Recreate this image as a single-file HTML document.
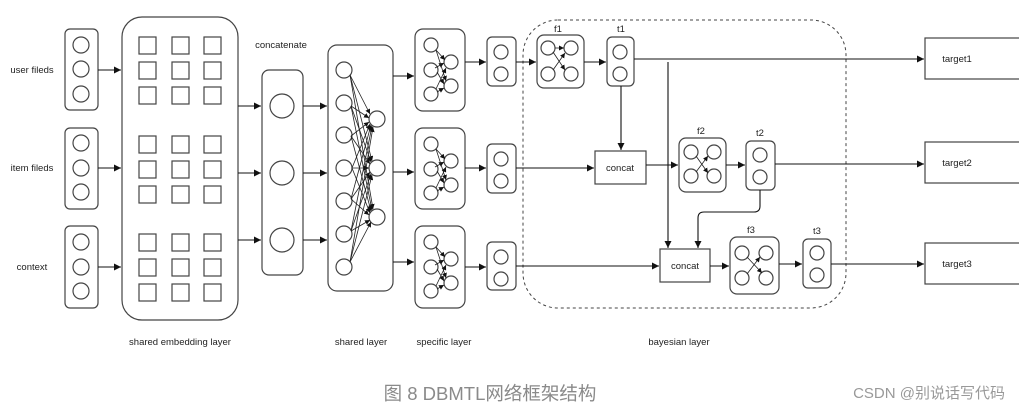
<!DOCTYPE html>
<html><head><meta charset="utf-8"><style>
html,body{margin:0;padding:0;background:#fff;}
svg{display:block;}
text{font-family:"Liberation Sans",sans-serif;fill:#222;}
</style></head><body>
<svg width="1019" height="411" viewBox="0 0 1019 411" xmlns="http://www.w3.org/2000/svg">
<defs>
<marker id="a" viewBox="0 0 10 10" refX="10" refY="5" markerWidth="7" markerHeight="7" markerUnits="userSpaceOnUse" orient="auto"><path d="M0,0L10,5L0,10z" fill="#111"/></marker>
<marker id="s" viewBox="0 0 10 10" refX="10" refY="5" markerWidth="5" markerHeight="5" markerUnits="userSpaceOnUse" orient="auto"><path d="M0,0L10,5L0,10z" fill="#111"/></marker>
</defs>
<g fill="none" stroke="#444" stroke-width="1.2">
<!-- input boxes -->
<rect x="65" y="29" width="33" height="81" rx="5"/>
<rect x="65" y="128" width="33" height="81" rx="5"/>
<rect x="65" y="226" width="33" height="82" rx="5"/>
<circle cx="81" cy="45" r="8"/><circle cx="81" cy="69" r="8"/><circle cx="81" cy="94" r="8"/>
<circle cx="81" cy="143" r="8"/><circle cx="81" cy="168" r="8"/><circle cx="81" cy="192" r="8"/>
<circle cx="81" cy="242" r="8"/><circle cx="81" cy="267" r="8"/><circle cx="81" cy="291" r="8"/>
<!-- embedding -->
<rect x="122" y="17" width="116" height="303" rx="20"/>
<g>
<rect x="139" y="37" width="17" height="17"/><rect x="172" y="37" width="17" height="17"/><rect x="204" y="37" width="17" height="17"/>
<rect x="139" y="62" width="17" height="17"/><rect x="172" y="62" width="17" height="17"/><rect x="204" y="62" width="17" height="17"/>
<rect x="139" y="87" width="17" height="17"/><rect x="172" y="87" width="17" height="17"/><rect x="204" y="87" width="17" height="17"/>
<rect x="139" y="136" width="17" height="17"/><rect x="172" y="136" width="17" height="17"/><rect x="204" y="136" width="17" height="17"/>
<rect x="139" y="161" width="17" height="17"/><rect x="172" y="161" width="17" height="17"/><rect x="204" y="161" width="17" height="17"/>
<rect x="139" y="186" width="17" height="17"/><rect x="172" y="186" width="17" height="17"/><rect x="204" y="186" width="17" height="17"/>
<rect x="139" y="234" width="17" height="17"/><rect x="172" y="234" width="17" height="17"/><rect x="204" y="234" width="17" height="17"/>
<rect x="139" y="259" width="17" height="17"/><rect x="172" y="259" width="17" height="17"/><rect x="204" y="259" width="17" height="17"/>
<rect x="139" y="284" width="17" height="17"/><rect x="172" y="284" width="17" height="17"/><rect x="204" y="284" width="17" height="17"/>
</g>
<!-- concat -->
<rect x="262" y="70" width="41" height="205" rx="7"/>
<circle cx="282" cy="106" r="12"/><circle cx="282" cy="173" r="12"/><circle cx="282" cy="240" r="12"/>
<!-- shared -->
<rect x="328" y="45" width="65" height="246" rx="9"/>
<circle cx="344" cy="70" r="8"/><circle cx="344" cy="103" r="8"/><circle cx="344" cy="135" r="8"/><circle cx="344" cy="168" r="8"/><circle cx="344" cy="201" r="8"/><circle cx="344" cy="234" r="8"/><circle cx="344" cy="267" r="8"/>
<circle cx="377" cy="119" r="8"/><circle cx="377" cy="168" r="8"/><circle cx="377" cy="217" r="8"/>
<!-- specific -->
<rect x="415" y="29" width="50" height="82" rx="8"/>
<rect x="415" y="128" width="50" height="81" rx="8"/>
<rect x="415" y="226" width="50" height="82" rx="8"/>
<circle cx="431" cy="45" r="7"/><circle cx="431" cy="70" r="7"/><circle cx="431" cy="94" r="7"/><circle cx="451" cy="62" r="7"/><circle cx="451" cy="86" r="7"/>
<circle cx="431" cy="144" r="7"/><circle cx="431" cy="169" r="7"/><circle cx="431" cy="193" r="7"/><circle cx="451" cy="161" r="7"/><circle cx="451" cy="185" r="7"/>
<circle cx="431" cy="242" r="7"/><circle cx="431" cy="267" r="7"/><circle cx="431" cy="291" r="7"/><circle cx="451" cy="259" r="7"/><circle cx="451" cy="283" r="7"/>
<!-- two-circle boxes -->
<rect x="487" y="37" width="29" height="49" rx="5"/><circle cx="501" cy="52" r="7"/><circle cx="501" cy="74" r="7"/>
<rect x="487" y="144" width="29" height="49" rx="5"/><circle cx="501" cy="159" r="7"/><circle cx="501" cy="181" r="7"/>
<rect x="487" y="242" width="29" height="48" rx="5"/><circle cx="501" cy="257" r="7"/><circle cx="501" cy="279" r="7"/>
<!-- dashed -->
<rect x="523" y="20" width="323" height="288" rx="35" stroke-dasharray="3,3" stroke-width="1"/>
<!-- f boxes -->
<rect x="537" y="35" width="47" height="53" rx="7"/>
<circle cx="548" cy="48" r="7"/><circle cx="571" cy="48" r="7"/><circle cx="548" cy="74" r="7"/><circle cx="571" cy="74" r="7"/>
<rect x="679" y="138" width="47" height="54" rx="7"/>
<circle cx="691" cy="152" r="7"/><circle cx="714" cy="152" r="7"/><circle cx="691" cy="176" r="7"/><circle cx="714" cy="176" r="7"/>
<rect x="730" y="237" width="49" height="57" rx="7"/>
<circle cx="742" cy="253" r="7"/><circle cx="766" cy="253" r="7"/><circle cx="742" cy="278" r="7"/><circle cx="766" cy="278" r="7"/>
<!-- t boxes -->
<rect x="607" y="37" width="27" height="49" rx="5"/><circle cx="620" cy="52" r="7"/><circle cx="620" cy="74" r="7"/>
<rect x="746" y="141" width="29" height="49" rx="5"/><circle cx="760" cy="155" r="7"/><circle cx="760" cy="177" r="7"/>
<rect x="803" y="239" width="28" height="49" rx="5"/><circle cx="817" cy="253" r="7"/><circle cx="817" cy="275" r="7"/>
<!-- concat boxes -->
<rect x="595" y="151" width="51" height="33"/>
<rect x="660" y="249" width="50" height="33"/>
<!-- targets -->
<rect x="925" y="38" width="100" height="41"/>
<rect x="925" y="142" width="100" height="41"/>
<rect x="925" y="243" width="100" height="41"/>
</g>
<g stroke="#111" stroke-width="1.1" fill="none" marker-end="url(#a)">
<line x1="98" y1="70" x2="121" y2="70"/><line x1="98" y1="168" x2="121" y2="168"/><line x1="98" y1="267" x2="121" y2="267"/>
<line x1="238" y1="106" x2="261" y2="106"/><line x1="238" y1="173" x2="261" y2="173"/><line x1="238" y1="240" x2="261" y2="240"/>
<line x1="303" y1="106" x2="327" y2="106"/><line x1="303" y1="173" x2="327" y2="173"/><line x1="303" y1="240" x2="327" y2="240"/>
<line x1="393" y1="76" x2="414" y2="76"/><line x1="393" y1="172" x2="414" y2="172"/><line x1="393" y1="262" x2="414" y2="262"/>
<line x1="465" y1="62" x2="486" y2="62"/><line x1="465" y1="168" x2="486" y2="168"/><line x1="465" y1="267" x2="486" y2="267"/>
<line x1="516" y1="62" x2="536" y2="62"/>
<line x1="584" y1="62" x2="606" y2="62"/>
<line x1="634" y1="59" x2="924" y2="59"/>
<line x1="668" y1="62" x2="668" y2="248"/>
<line x1="621" y1="86" x2="621" y2="150"/>
<line x1="516" y1="168" x2="594" y2="168"/>
<line x1="646" y1="165" x2="678" y2="165"/>
<line x1="726" y1="165" x2="745" y2="165"/>
<line x1="775" y1="164" x2="924" y2="164"/>
<path d="M760,190 V206 Q760,212 754,212 H704 Q698,212 698,218 V248"/>
<line x1="516" y1="266" x2="659" y2="266"/>
<line x1="710" y1="266" x2="729" y2="266"/>
<line x1="779" y1="264" x2="802" y2="264"/>
<line x1="831" y1="264" x2="924" y2="264"/>
</g>
<g stroke="#222" stroke-width="0.8" marker-end="url(#s)">
<!-- shared layer dense -->
<line x1="350" y1="75" x2="370" y2="114"/><line x1="350" y1="75" x2="372" y2="161"/><line x1="350" y1="75" x2="373" y2="209"/>
<line x1="351" y1="106" x2="369" y2="118"/><line x1="351" y1="106" x2="371" y2="162"/><line x1="351" y1="106" x2="372" y2="210"/>
<line x1="351" y1="136" x2="369" y2="122"/><line x1="351" y1="136" x2="370" y2="164"/><line x1="351" y1="136" x2="371" y2="211"/>
<line x1="352" y1="168" x2="370" y2="124"/><line x1="352" y1="168" x2="369" y2="168"/><line x1="352" y1="168" x2="370" y2="213"/>
<line x1="351" y1="199" x2="371" y2="125"/><line x1="351" y1="199" x2="370" y2="172"/><line x1="351" y1="199" x2="369" y2="215"/>
<line x1="351" y1="231" x2="372" y2="126"/><line x1="351" y1="231" x2="371" y2="174"/><line x1="351" y1="231" x2="370" y2="220"/>
<line x1="350" y1="262" x2="373" y2="127"/><line x1="350" y1="262" x2="372" y2="175"/><line x1="350" y1="262" x2="371" y2="222"/>
<!-- specific -->
<line x1="436" y1="50" x2="445" y2="60"/><line x1="435" y1="68" x2="444" y2="63"/><line x1="436" y1="89" x2="446" y2="68"/>
<line x1="436" y1="50" x2="446" y2="81"/><line x1="437" y1="72" x2="444" y2="84"/><line x1="437" y1="92" x2="444" y2="88"/>
<line x1="436" y1="149" x2="445" y2="159"/><line x1="435" y1="167" x2="444" y2="162"/><line x1="436" y1="188" x2="446" y2="167"/>
<line x1="436" y1="149" x2="446" y2="180"/><line x1="437" y1="171" x2="444" y2="183"/><line x1="437" y1="191" x2="444" y2="187"/>
<line x1="436" y1="247" x2="445" y2="257"/><line x1="435" y1="265" x2="444" y2="260"/><line x1="436" y1="286" x2="446" y2="265"/>
<line x1="436" y1="247" x2="446" y2="278"/><line x1="437" y1="269" x2="444" y2="281"/><line x1="437" y1="289" x2="444" y2="285"/>
<!-- f nets -->
<line x1="553" y1="52" x2="565" y2="70"/><line x1="553" y1="70" x2="565" y2="53"/><line x1="555" y1="48" x2="564" y2="48"/>
<line x1="696" y1="156" x2="708" y2="173"/><line x1="696" y1="172" x2="708" y2="156"/>
<line x1="747" y1="274" x2="760" y2="257"/><line x1="747" y1="257" x2="762" y2="273"/>
</g>
<g font-size="9.5" text-anchor="middle">
<text x="32" y="73">user fileds</text>
<text x="32" y="171">item fileds</text>
<text x="32" y="270">context</text>
<text x="281" y="48">concatenate</text>
<text x="180" y="345">shared embedding layer</text>
<text x="361" y="345">shared layer</text>
<text x="444" y="345">specific layer</text>
<text x="679" y="345">bayesian layer</text>
<text x="558" y="32">f1</text><text x="621" y="32">t1</text>
<text x="701" y="134">f2</text><text x="760" y="136">t2</text>
<text x="751" y="233">f3</text><text x="817" y="234">t3</text>
<text x="620" y="171">concat</text>
<text x="685" y="269">concat</text>
<text x="957" y="62">target1</text>
<text x="957" y="166">target2</text>
<text x="957" y="267">target3</text>
</g>
<text x="490" y="400" font-size="18.5" text-anchor="middle" style='fill:#8a8a8a;font-family:"Liberation Sans","Noto Sans CJK SC",sans-serif'>图 8 DBMTL网络框架结构</text>
<text x="1005" y="398" font-size="15" text-anchor="end" style='fill:#999;font-family:"Liberation Sans","Noto Sans CJK SC",sans-serif'>CSDN @别说话写代码</text>
</svg>
</body></html>
